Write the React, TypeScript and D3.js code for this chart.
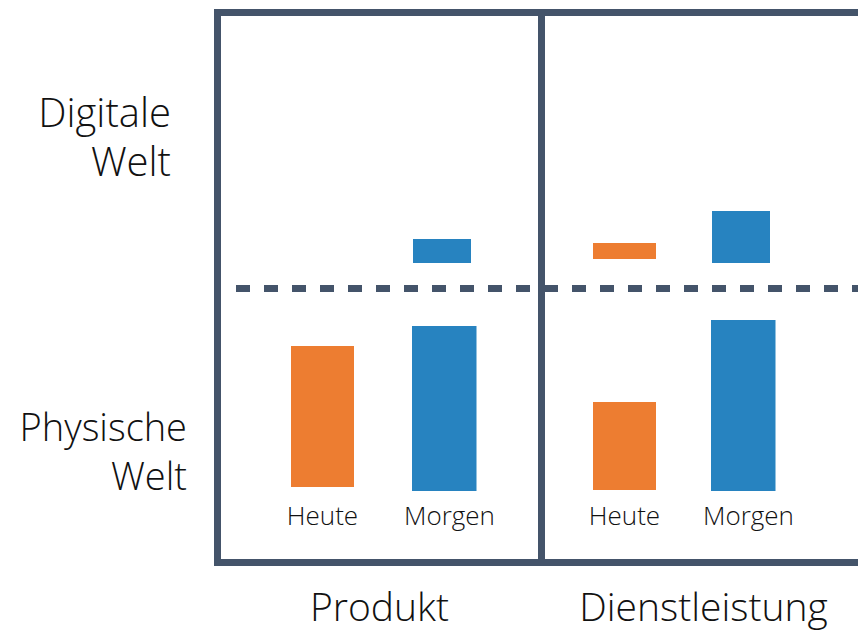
import React from "react";
import * as d3 from "d3";

// ---- data ----
const panels = ["Produkt", "Dienstleistung"];
const periods = ["Heute", "Morgen"];
const rowLabelsTop = ["Digitale", "Welt"];
const rowLabelsBottom = ["Physische", "Welt"];
// bars as [bottom, top] in chart units (physical world below the dashed line, digital above)
const physischHeute: [number, number][] = [[75.5, 216.5], [72.5, 160.5]];
const physischMorgen: [number, number][] = [[71.5, 236.5], [71.5, 242.5]];
const digitalHeute: ([number, number] | null)[] = [null, [303.5, 319.5]];
const digitalMorgen: ([number, number] | null)[] = [[299.5, 323.5], [299.5, 351.5]];
const boundary = 274; // Digital / physisch threshold

const W = 858;
const H = 630;
const FRAME = "#44546A";
const ORANGE = "#ED7D31";
const BLUE = "#2783C0";
const FONT = "'Open Sans', 'Noto Sans', sans-serif";

export default function App() {
  const x = d3.scaleBand<string>().domain(panels).range([217.5, 865.5]).padding(0);
  const y = d3.scaleLinear().domain([0, 550]).range([562.5, 12.5]);
  const inner: Record<string, [number, number]> = {
    Produkt: [73.5, 194.5],
    Dienstleistung: [51.5, 169.5],
  };
  const widths = { Heute: 63, Morgen: 64.5, MorgenDigital: 58 };
  const xi = (panel: string) =>
    d3.scalePoint<string>().domain(periods).range(inner[panel]);

  const bars: { x: number; w: number; r: [number, number]; c: string }[] = [];
  panels.forEach((p, i) => {
    const s = xi(p);
    const x0 = x(p)!;
    bars.push({ x: x0 + s("Heute")!, w: widths.Heute, r: physischHeute[i], c: ORANGE });
    bars.push({ x: x0 + s("Morgen")!, w: widths.Morgen, r: physischMorgen[i], c: BLUE });
    const dh = digitalHeute[i];
    if (dh) bars.push({ x: x0 + s("Heute")!, w: widths.Heute, r: dh, c: ORANGE });
    const dm = digitalMorgen[i];
    if (dm) bars.push({ x: x0 + s("Morgen")! + 1, w: widths.MorgenDigital, r: dm, c: BLUE });
  });

  const yTop = y(550);
  const yBot = y(0);
  const yb = y(boundary);

  return (
    <svg
      width={W}
      height={H}
      style={{ position: "absolute", left: 0, top: 0, background: "#fff" }}
      fontFamily={FONT}
      fontWeight={300}
    >
      <rect x={0} y={0} width={W} height={H} fill="#fff" />
      {bars.map((b, i) => (
        <rect
          key={i}
          x={b.x}
          y={y(b.r[1])}
          width={b.w}
          height={y(b.r[0]) - y(b.r[1])}
          fill={b.c}
        />
      ))}
      {/* frame */}
      <rect
        x={x(panels[0])!}
        y={yTop}
        width={x.range()[1] - x(panels[0])!}
        height={yBot - yTop}
        fill="none"
        stroke={FRAME}
        strokeWidth={7}
      />
      <line x1={x(panels[1])!} x2={x(panels[1])!} y1={yTop} y2={yBot} stroke={FRAME} strokeWidth={7} />
      <line
        x1={222}
        x2={W + 10}
        y1={yb}
        y2={yb}
        stroke={FRAME}
        strokeWidth={7}
        strokeDasharray="14 14"
        strokeDashoffset={14}
      />
      {/* period labels */}
      {panels.map((p) => {
        const s = xi(p);
        return periods.map((per) => (
          <text
            key={p + per}
            x={x(p)! + s(per)! + (per === "Heute" ? 31.5 : 37.5)}
            y={525}
            textAnchor="middle"
            fontSize={26}
            fill="#111"
          >
            {per}
          </text>
        ));
      })}
      {/* panel labels */}
      {panels.map((p) => (
        <text
          key={p}
          x={x(p)! + x.bandwidth() / 2}
          y={621}
          textAnchor="middle"
          fontSize={39}
          fill="#111"
        >
          {p}
        </text>
      ))}
      {/* row labels */}
      {rowLabelsTop.map((t, i) => (
        <text key={"t" + i} x={171} y={127 + i * 49} textAnchor="end" fontSize={40} fill="#111">
          {t}
        </text>
      ))}
      {rowLabelsBottom.map((t, i) => (
        <text key={"b" + i} x={187} y={441 + i * 49} textAnchor="end" fontSize={38} fill="#111">
          {t}
        </text>
      ))}
    </svg>
  );
}
